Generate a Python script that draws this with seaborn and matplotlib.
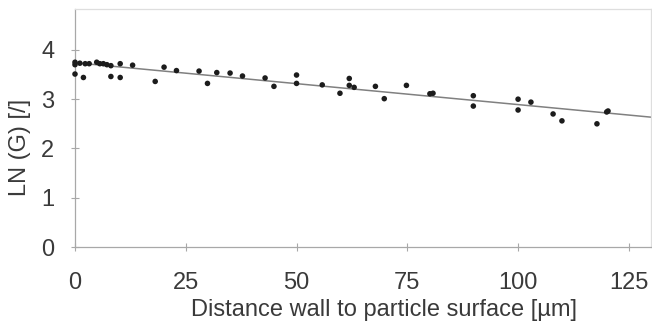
import matplotlib
matplotlib.use("Agg")
import matplotlib.pyplot as plt
import seaborn as sns
import pandas as pd

# Data
distance_um = [0, 0, 0, 1.1, 1.9, 2.3, 3.2, 4.9, 5.6, 6.4, 7.2, 8.1, 8.1,
               10.2, 10.2, 13.0, 18.1, 20.1, 22.9, 28.0, 29.9, 32.0, 35.0,
               37.8, 42.9, 44.9, 50.0, 50.0, 55.8, 59.8, 61.9, 61.9, 63.0,
               67.8, 69.8, 74.8, 80.1, 80.8, 89.9, 89.9, 100.0, 100.0,
               102.9, 107.9, 109.9, 117.8, 120.0, 120.3]
ln_g = [3.75, 3.70, 3.51, 3.73, 3.44, 3.72, 3.72, 3.75, 3.72, 3.72, 3.70,
        3.68, 3.46, 3.72, 3.44, 3.69, 3.36, 3.65, 3.58, 3.57, 3.32, 3.54,
        3.53, 3.47, 3.43, 3.26, 3.49, 3.32, 3.29, 3.12, 3.42, 3.28, 3.24,
        3.26, 3.01, 3.28, 3.11, 3.12, 3.07, 2.86, 3.00, 2.78, 2.94, 2.70,
        2.56, 2.50, 2.74, 2.76]

# trend line
fit_intercept = 3.74
fit_slope = -0.0085
line_x = [0, 130]
line_y = [fit_intercept + fit_slope * v for v in line_x]

x_ticks = [0, 25, 50, 75, 100, 125]
y_ticks = [0, 1, 2, 3, 4]

sns.set_theme(style="white")
plt.rcParams['font.family'] = ['Liberation Sans', 'DejaVu Sans']

W, H = 652, 323
fig = plt.figure(figsize=(W / 100, H / 100), dpi=100)
ax = fig.add_axes([75 / W, (H - 247) / H, (651 - 75) / W, (247 - 9) / H])

df = pd.DataFrame({"x": distance_um, "y": ln_g})
ldf = pd.DataFrame({"x": line_x, "y": line_y})

sns.lineplot(data=ldf, x="x", y="y", ax=ax, color="#808080", linewidth=1.1)
sns.scatterplot(data=df, x="x", y="y", ax=ax, color="#1c1c1c", s=16,
                edgecolor="none", zorder=3, clip_on=False)

ax.set_xlim(0, 130)
ax.set_ylim(0, 4.83)
ax.set_xticks(x_ticks)
ax.set_yticks(y_ticks)

fs = 17
text_color = "#3a3a3a"
ax.set_xlabel("Distance wall to particle surface [µm]", fontsize=fs,
              color=text_color)
ax.set_ylabel("LN (G) [/]", fontsize=fs, color=text_color)
# label centres (axes fraction) from the picture
ax.xaxis.set_label_coords((384 - 75) / (651 - 75), -(310 - 247) / (247 - 9))
ax.yaxis.set_label_coords(-(75 - 20) / (651 - 75), (247 - 147) / (247 - 9))
ax.xaxis.label.set_verticalalignment("center")
ax.yaxis.label.set_verticalalignment("center")

ax.tick_params(axis="both", labelsize=fs, labelcolor=text_color,
               direction="inout", length=6, width=0.8, color="#a8a8a8",
               left=True, bottom=True)
ax.tick_params(axis="x", pad=15)
ax.tick_params(axis="y", pad=12)

for side in ["left", "bottom"]:
    ax.spines[side].set_color("#a8a8a8")
    ax.spines[side].set_linewidth(0.9)
for side in ["top", "right"]:
    ax.spines[side].set_color("#dedede")
    ax.spines[side].set_linewidth(0.9)

fig.savefig("out.png", dpi=100)
